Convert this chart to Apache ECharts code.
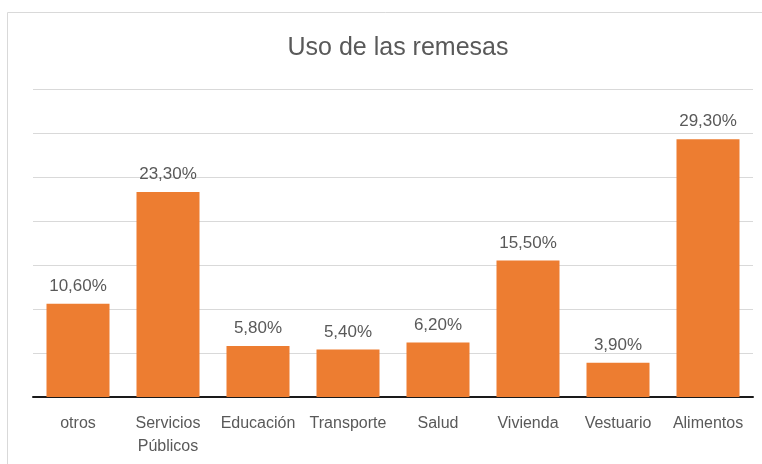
<!DOCTYPE html>
<html>
<head>
<meta charset="utf-8">
<script src="https://cdn.jsdelivr.net/npm/echarts@6/dist/echarts.min.js"></script>
<style>
  html, body { margin: 0; padding: 0; background: #fff; }
  #chart { width: 762px; height: 464px; }
</style>
</head>
<body>
<div id="chart"></div>
<script>
var categories = ['otros', 'Servicios\nPúblicos', 'Educación', 'Transporte', 'Salud', 'Vivienda', 'Vestuario', 'Alimentos'];
var values = [10.6, 23.3, 5.8, 5.4, 6.2, 15.5, 3.9, 29.3];

var textColor = '#595959';
var font = 'Liberation Sans';

var myChart = echarts.init(document.getElementById('chart'));
var option = {
  animation: false,
  title: {
    text: 'Uso de las remesas',
    left: 393,
    top: 31,
    textAlign: 'center',
    textStyle: {
      color: textColor,
      fontSize: 25,
      fontWeight: 'normal',
      fontFamily: font
    }
  },
  graphic: [{
    type: 'rect',
    shape: { x: 7.5, y: 12.5, width: 800, height: 500 },
    style: { fill: 'none', stroke: '#d9d9d9', lineWidth: 1 },
    silent: true
  }],
  grid: {
    left: 33,
    right: 9,
    top: 89,
    bottom: 67
  },
  xAxis: {
    type: 'category',
    data: categories,
    axisTick: { show: false },
    axisLine: { lineStyle: { color: '#1a1a1a', width: 2 } },
    axisLabel: {
      color: textColor,
      fontSize: 16,
      fontFamily: font,
      margin: 15,
      lineHeight: 23,
      interval: 0
    }
  },
  yAxis: {
    type: 'value',
    min: 0,
    max: 35,
    interval: 5,
    axisLabel: { show: false },
    axisLine: { show: false },
    axisTick: { show: false },
    splitLine: { lineStyle: { color: '#d9d9d9', width: 1 } }
  },
  series: [{
    type: 'bar',
    data: values,
    barCategoryGap: '30%',
    itemStyle: { color: '#ED7D31' },
    label: {
      show: true,
      position: 'top',
      distance: 9,
      color: textColor,
      fontSize: 17,
      fontFamily: font,
      formatter: function (p) {
        return p.value.toFixed(2).replace('.', ',') + '%';
      }
    }
  }]
};
myChart.setOption(option);
</script>
</body>
</html>
